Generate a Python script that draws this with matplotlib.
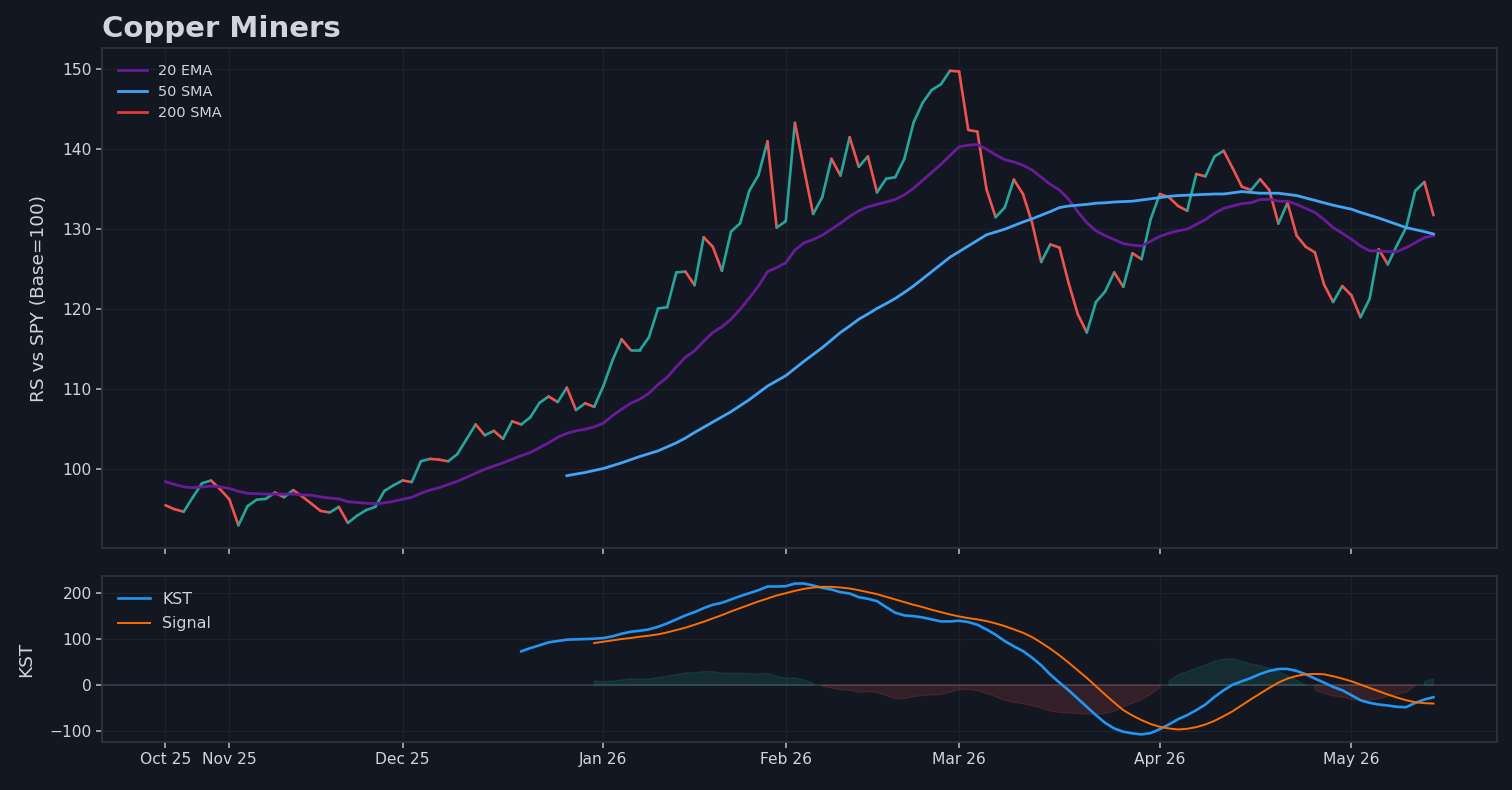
import numpy as np
import matplotlib.pyplot as plt
from matplotlib.collections import LineCollection

# trading-day index of the first session in each month
month_ticks = [0, 7, 26, 48, 68, 87, 109, 130]
month_labels = ["Oct 25", "Nov 25", "Dec 25", "Jan 26", "Feb 26", "Mar 26", "Apr 26", "May 26"]

# relative strength vs SPY, base 100
price = [95.5, 95.0, 94.7, 96.5, 98.25, 98.6, 97.5, 96.25, 93.0, 95.4,
         96.2, 96.3, 97.1, 96.5, 97.4, 96.6, 95.7, 94.8, 94.6, 95.3,
         93.3, 94.2, 94.9, 95.3, 97.3, 98.0, 98.6, 98.4, 101.0, 101.3,
         101.2, 101.0, 101.9, 103.75, 105.6, 104.25, 104.8, 103.8, 106.0, 105.6,
         106.5, 108.3, 109.1, 108.4, 110.2, 107.4, 108.25, 107.8, 110.4, 113.6,
         116.25, 114.9, 114.9, 116.5, 120.1, 120.25, 124.6, 124.7, 123.0, 129.0,
         127.8, 124.8, 129.7, 130.75, 134.8, 136.75, 141.0, 130.2, 131.0, 143.3,
         137.5, 131.9, 134.0, 138.8, 136.7, 141.5, 137.8, 139.1, 134.6, 136.3,
         136.5, 138.8, 143.3, 145.8, 147.4, 148.1, 149.8, 149.7, 142.4, 142.2,
         135.0, 131.5, 132.7, 136.2, 134.4, 130.8, 125.9, 128.1, 127.7, 123.3,
         119.4, 117.1, 120.9, 122.2, 124.6, 122.8, 127.0, 126.25, 131.25, 134.4,
         134.0, 132.9, 132.3, 136.9, 136.6, 139.1, 139.8, 137.6, 135.3, 134.9,
         136.25, 134.9, 130.7, 133.3, 129.2, 127.8, 127.1, 123.1, 120.9, 122.9,
         121.75, 119.0, 121.3, 127.5, 125.6, 128.0, 130.2, 134.8, 135.9, 131.75]

ema20 = [98.45, 98.1, 97.8, 97.7, 97.8, 97.9, 97.8, 97.6, 97.25, 97.0,
         96.95, 96.9, 96.9, 96.9, 96.9, 96.8, 96.75, 96.55, 96.4, 96.3,
         95.95, 95.85, 95.75, 95.7, 95.8, 96.0, 96.25, 96.5, 97.0, 97.4,
         97.7, 98.1, 98.5, 99.0, 99.5, 100.0, 100.4, 100.8, 101.25, 101.7,
         102.1, 102.7, 103.3, 104.0, 104.5, 104.8, 105.0, 105.3, 105.75, 106.7,
         107.5, 108.25, 108.75, 109.5, 110.6, 111.5, 112.8, 114.0, 114.8, 116.0,
         117.1, 117.8, 118.75, 120.0, 121.4, 122.9, 124.7, 125.2, 125.8, 127.4,
         128.3, 128.7, 129.25, 130.0, 130.75, 131.6, 132.3, 132.8, 133.1, 133.4,
         133.7, 134.3, 135.1, 136.1, 137.1, 138.1, 139.2, 140.3, 140.5, 140.6,
         140.0, 139.3, 138.7, 138.4, 138.0, 137.4, 136.5, 135.6, 134.9, 133.75,
         132.2, 130.8, 129.8, 129.2, 128.7, 128.2, 128.0, 127.9, 128.5, 129.1,
         129.5, 129.8, 130.0, 130.6, 131.2, 132.0, 132.6, 132.9, 133.2, 133.3,
         133.7, 133.75, 133.5, 133.5, 133.1, 132.6, 132.1, 131.2, 130.2, 129.5,
         128.75, 127.9, 127.3, 127.3, 127.2, 127.2, 127.7, 128.3, 128.95, 129.2]

sma50_start = 44
sma50 = [99.2, 99.4, 99.6, 99.85, 100.1, 100.45, 100.8, 101.2, 101.6, 101.95,
         102.3, 102.8, 103.3, 103.9, 104.6, 105.25, 105.9, 106.55, 107.2, 107.95,
         108.7, 109.55, 110.4, 111.05, 111.7, 112.6, 113.5, 114.35, 115.2, 116.15,
         117.1, 117.9, 118.75, 119.4, 120.1, 120.7, 121.35, 122.1, 122.9, 123.8,
         124.7, 125.6, 126.5, 127.2, 127.9, 128.6, 129.3, 129.65, 130.0, 130.45,
         130.9, 131.3, 131.75, 132.2, 132.7, 132.9, 133.0, 133.1, 133.25, 133.3,
         133.4, 133.45, 133.5, 133.65, 133.8, 133.95, 134.1, 134.2, 134.25, 134.3,
         134.35, 134.4, 134.4, 134.55, 134.7, 134.6, 134.5, 134.5, 134.5, 134.35,
         134.2, 133.9, 133.6, 133.3, 133.0, 132.75, 132.5, 132.1, 131.75, 131.4,
         131.0, 130.6, 130.2, 129.95, 129.7, 129.4]

sma200 = []  # not enough history in the window

kst_start = 39
kst = [73.9, 81, 87, 93.5, 96.4, 99.3, 100, 100.7, 101.4, 102.9,
       106.5, 112.3, 116.6, 118.8, 121.7, 127.5, 134.8, 143.5, 152.2, 159.4,
       168.1, 175.4, 179.7, 187, 194.2, 200.7, 207.2, 215.2, 215.2, 215.9,
       221.7, 221.7, 217.4, 212.3, 208.7, 202.9, 200, 192, 188.4, 183.3,
       170.3, 158, 152.2, 150.7, 147.8, 143.5, 139.1, 139.1, 140.6, 137.7,
       131.9, 121.7, 110.1, 96.4, 84.8, 74.6, 60.1, 43.5, 23.2, 5.8,
       -10.9, -29, -47.1, -65.2, -81.9, -94.2, -101.4, -105, -107.2, -104.3,
       -95.7, -85.5, -74, -65.2, -54.3, -42, -25.4, -10.9, 1.4, 8.7,
       15.9, 24.6, 31.2, 35.5, 35.5, 31.2, 23.9, 14.5, 5.8, -3.6,
       -10.9, -21.7, -32.6, -38.4, -42, -44.2, -47.1, -47.8, -38.4, -31.2,
       -26.1]

signal_start = 47
signal = [92, 94.9, 97.8, 100.7, 102.9, 105.8, 108, 110.9, 115.2, 120.3,
          125.4, 131.9, 138.4, 145.7, 152.9, 160.9, 168.1, 175.4, 182.6, 189.1,
          195.7, 200.7, 205.8, 210.1, 213, 214.5, 214.5, 213, 210.9, 207.2,
          202.9, 198.6, 192.8, 187, 181.2, 175.4, 170.3, 164.5, 159.4, 154.3,
          150, 146.4, 143.5, 139.9, 134.8, 129, 121.7, 114.5, 105, 92.8,
          79.7, 65.2, 49.3, 32.6, 15.9, -2.2, -20.3, -37.7, -54.3, -66,
          -76, -84.5, -90.6, -94.2, -96.4, -94.9, -91.3, -85.5, -77.5, -67.4,
          -56.5, -43.5, -30.4, -18.1, -5.8, 5.8, 14.5, 20.3, 23.9, 24.6,
          23.9, 19.6, 14.5, 8.7, 1.4, -5.8, -13, -20.3, -26.8, -32.6,
          -37, -39.1, -39.9]

BG = "#131722"
TXT = "#d1d4dc"
GRID = "#1d212c"
SPINE = "#2e323d"
UP = "#26a69a"
DOWN = "#ef5350"

fig = plt.figure(figsize=(15.12, 7.9), dpi=100, facecolor=BG)
ax = fig.add_axes([0.0675, 0.3063, 0.9225, 0.6329])
ax2 = fig.add_axes([0.0675, 0.0608, 0.9225, 0.2101], sharex=ax)

for a in (ax, ax2):
    a.set_facecolor(BG)
    a.grid(True, color=GRID, linewidth=0.9)
    a.set_axisbelow(True)
    for s in a.spines.values():
        s.set_color(SPINE)
        s.set_linewidth(1.3)
    a.tick_params(colors="#b2b5be", labelcolor=TXT, labelsize=11.2, length=4, width=1.2)

# price line, coloured by day-over-day direction
x = np.arange(len(price))
p = np.array(price)
pts = np.column_stack([x, p])
segs = np.stack([pts[:-1], pts[1:]], axis=1)
seg_colors = [UP if d >= 0 else DOWN for d in np.diff(p)]
lc = LineCollection(segs, colors=seg_colors, linewidths=1.9, capstyle="round", joinstyle="round")
ax.add_collection(lc)

ax.plot(x, ema20, color="#6a1b9a", lw=2.0, label="20 EMA")
ax.plot(np.arange(sma50_start, sma50_start + len(sma50)), sma50, color="#42a5f5", lw=2.0, label="50 SMA")
ax.plot(np.arange(len(sma200)), sma200, color="#e53935", lw=2.0, label="200 SMA")
ax.autoscale_view()

ax.set_ylabel("RS vs SPY (Base=100)", color=TXT, fontsize=13.3, labelpad=10)
ax.set_title("Copper Miners", loc="left", color=TXT, fontsize=21, fontweight="bold", pad=8)
ax.legend(loc="upper left", frameon=False, fontsize=10.4, labelcolor=TXT,
          labelspacing=0.5, borderaxespad=0.7)
ax.tick_params(labelbottom=False)

# KST panel
xk = np.arange(kst_start, kst_start + len(kst))
xs = np.arange(signal_start, signal_start + len(signal))
k = np.array(kst)
sg = np.array(signal)
hist = k[signal_start - kst_start:] - sg

ax2.axhline(0, color="#333743", lw=1.4, zorder=1)
ax2.fill_between(xs, 0, hist, where=hist >= 0, color=UP, alpha=0.15)
ax2.fill_between(xs, 0, hist, where=hist < 0, color=DOWN, alpha=0.15)
ax2.plot(xk, k, color="#2196f3", lw=1.9, label="KST")
ax2.plot(xs, sg, color="#ff6d00", lw=1.4, label="Signal")
ax2.set_ylabel("KST", color=TXT, fontsize=13.3, labelpad=10)
ax2.legend(loc="upper left", frameon=False, fontsize=11.4, labelcolor=TXT,
           labelspacing=0.6, borderaxespad=0.6)

ax2.set_xticks(month_ticks)
ax2.set_xticklabels(month_labels)
ax2.set_yticks([-100, 0, 100, 200])

fig.savefig("out.png", dpi=100, facecolor=BG)
